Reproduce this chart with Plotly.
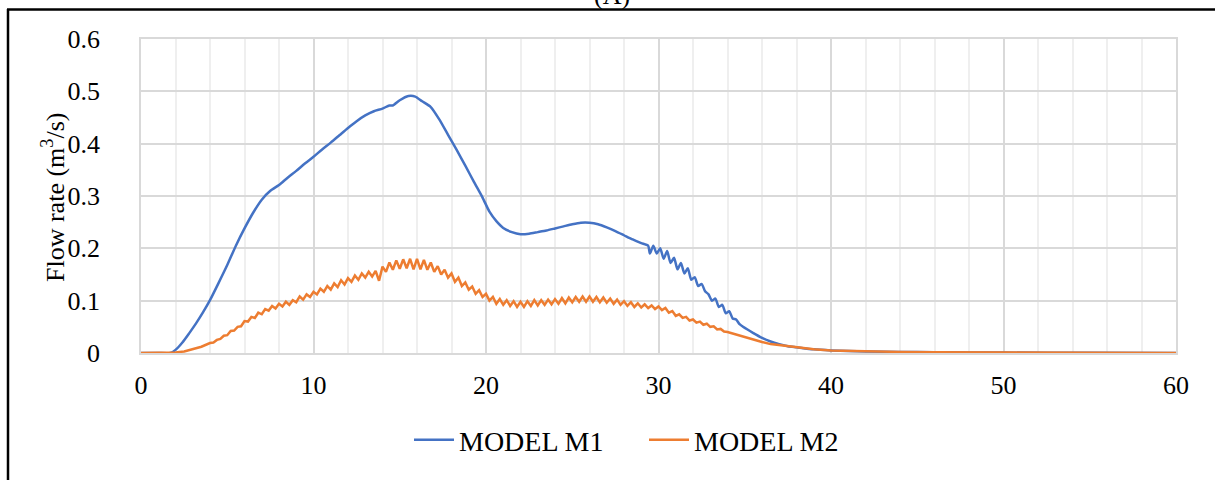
import plotly.graph_objects as go

# ---------------- data ----------------
t_m1 = [0, 1, 1.7, 2.0, 2.4, 2.8, 3.2, 3.6, 4.0, 4.5, 5.0, 5.5, 6.0, 6.5, 7.0, 7.5,
        8.0, 8.5, 9.0, 9.5, 10, 10.5, 11, 11.5, 12, 12.5, 13, 13.5, 14, 14.4, 14.6,
        15.0, 15.5, 15.9, 16.3, 16.8, 17.3, 17.8, 18.3, 18.8, 19.3, 19.8, 20.2, 20.6,
        21.0, 21.5, 22.0, 22.5, 23.0, 23.5, 24.0, 24.5, 25.0, 25.5, 26.0, 26.5, 27.0,
        27.5, 28.0, 28.5, 29.0, 29.4,
        29.5, 29.7, 29.9, 30.1, 30.3, 30.5, 30.7, 30.9, 31.1, 31.3, 31.5, 31.7, 31.9,
        32.1, 32.3, 32.5, 32.7, 32.9, 33.1, 33.3, 33.5, 33.7, 33.9, 34.1, 34.3, 34.5,
        34.7, 34.9, 35.5, 36, 36.5, 37, 37.5, 38, 39, 40, 41, 42, 44, 46, 48, 50, 55, 60]
q_m1 = [0, 0, 0, 0.006, 0.02, 0.038, 0.057, 0.078, 0.101, 0.134, 0.168, 0.205, 0.238,
        0.268, 0.293, 0.31, 0.321, 0.335, 0.348, 0.362, 0.375, 0.389, 0.402, 0.416,
        0.43, 0.443, 0.454, 0.462, 0.467, 0.473, 0.473, 0.483, 0.491, 0.49, 0.481,
        0.47, 0.446, 0.417, 0.388, 0.358, 0.327, 0.297, 0.27, 0.252, 0.239, 0.231,
        0.227, 0.228, 0.231, 0.234, 0.238, 0.242, 0.246, 0.249, 0.249, 0.246, 0.24,
        0.233, 0.225, 0.217, 0.21, 0.205,
        0.19, 0.205, 0.19, 0.2, 0.18, 0.195, 0.172, 0.182, 0.16, 0.172, 0.152, 0.162,
        0.14, 0.145, 0.128, 0.132, 0.118, 0.112, 0.1, 0.104, 0.088, 0.092, 0.076,
        0.08, 0.066, 0.064, 0.055, 0.05, 0.038, 0.029, 0.022, 0.017, 0.013, 0.011,
        0.007, 0.005, 0.004, 0.003, 0.002, 0.0015, 0.001, 0.0008, 0.0003, 0]

t_m2 = [0, 1, 1.5, 2, 2.5, 3, 3.5,
        4.0, 4.2, 4.4, 4.6, 4.8, 5.0, 5.2, 5.4, 5.6, 5.8, 6.0, 6.2, 6.4, 6.6, 6.8,
        7.0, 7.2, 7.4, 7.6, 7.8, 8.0, 8.2, 8.4, 8.6, 8.8, 9.0, 9.2, 9.4, 9.6, 9.8,
        10.0, 10.2, 10.4, 10.6, 10.8, 11.0, 11.2, 11.4, 11.6, 11.8, 12.0, 12.2, 12.4,
        12.6, 12.8, 13.0, 13.2, 13.4, 13.6, 13.8, 14.0, 14.2, 14.4, 14.6, 14.8, 15.0,
        15.2, 15.4, 15.6, 15.8, 16.0, 16.2, 16.4, 16.6, 16.8, 17.0, 17.2, 17.4, 17.6,
        17.8, 18.0, 18.2, 18.4, 18.6, 18.8, 19.0, 19.2, 19.4, 19.6, 19.8, 20.0, 20.2,
        20.4, 20.6, 20.8, 21.0, 21.2, 21.4, 21.6, 21.8, 22.0, 22.2, 22.4, 22.6, 22.8,
        23.0, 23.2, 23.4, 23.6, 23.8, 24.0, 24.2, 24.4, 24.6, 24.8, 25.0, 25.2, 25.4,
        25.6, 25.8, 26.0, 26.2, 26.4, 26.6, 26.8, 27.0, 27.2, 27.4, 27.6, 27.8, 28.0,
        28.2, 28.4, 28.6, 28.8, 29.0, 29.2, 29.4, 29.6, 29.8, 30.0, 30.2, 30.4, 30.6,
        30.8, 31.0, 31.2, 31.4, 31.6, 31.8, 32.0, 32.2, 32.4, 32.6, 32.8, 33.0, 33.2,
        33.4, 33.6, 33.8, 34.0,
        34.5, 35, 35.5, 36, 36.5, 37, 37.5, 38, 39, 40, 41, 42, 44, 46, 48, 50, 55, 60]
q_m2 = [0, 0, 0, 0.001, 0.003, 0.007, 0.012,
        0.019, 0.020, 0.025, 0.027, 0.033, 0.034, 0.042, 0.043, 0.050, 0.051, 0.061,
        0.060, 0.069, 0.067, 0.077, 0.074, 0.084, 0.081, 0.090, 0.085, 0.094, 0.089,
        0.098, 0.092, 0.101, 0.097, 0.108, 0.102, 0.112, 0.107, 0.117, 0.112, 0.123,
        0.117, 0.128, 0.121, 0.133, 0.126, 0.139, 0.131, 0.143, 0.136, 0.148, 0.140,
        0.152, 0.144, 0.155, 0.146, 0.157, 0.138, 0.165, 0.155, 0.173, 0.159, 0.177,
        0.161, 0.179, 0.162, 0.180, 0.160, 0.180, 0.160, 0.178, 0.159, 0.173, 0.155,
        0.166, 0.150, 0.159, 0.144, 0.152, 0.136, 0.144, 0.128, 0.135, 0.121, 0.127,
        0.113, 0.120, 0.107, 0.113, 0.100, 0.107, 0.094, 0.103, 0.092, 0.101, 0.090,
        0.099, 0.088, 0.098, 0.088, 0.099, 0.090, 0.101, 0.091, 0.101, 0.092, 0.102,
        0.093, 0.103, 0.094, 0.105, 0.095, 0.106, 0.097, 0.107, 0.098, 0.108, 0.098,
        0.108, 0.098, 0.107, 0.097, 0.106, 0.096, 0.104, 0.094, 0.102, 0.092, 0.099,
        0.090, 0.097, 0.088, 0.095, 0.087, 0.093, 0.086, 0.091, 0.084, 0.089, 0.082,
        0.086, 0.077, 0.080, 0.071, 0.074, 0.067, 0.069, 0.062, 0.064, 0.058, 0.060,
        0.054, 0.056, 0.050, 0.051, 0.045, 0.046, 0.041, 0.040,
        0.035, 0.030, 0.026, 0.021, 0.017, 0.015, 0.012, 0.010, 0.007, 0.005, 0.004,
        0.003, 0.002, 0.0015, 0.001, 0.0008, 0.0003, 0]

series_names = ["MODEL M1", "MODEL M2"]
x_ticks = [0, 10, 20, 30, 40, 50, 60]
y_ticks = [0, 0.1, 0.2, 0.3, 0.4, 0.5, 0.6]
y_tick_text = ["0", "0.1", "0.2", "0.3", "0.4", "0.5", "0.6"]

FONT = "Liberation Serif, Times New Roman, serif"

fig = go.Figure()
fig.add_trace(go.Scatter(x=t_m1, y=q_m1, mode="lines", name=series_names[0],
                         line=dict(color="#4472C4", width=2.5, shape="spline",
                                   smoothing=0.6)))
fig.add_trace(go.Scatter(x=t_m2, y=q_m2, mode="lines", name=series_names[1],
                         line=dict(color="#ED7D31", width=2.5)))

W, H = 1215, 480
L, R, T, B = 141, 39, 39, 127
pw, ph = W - L - R, H - T - B


def px_x(p):
    return (p - L) / pw


def px_y(p):
    return (H - B - p) / ph


fig.update_layout(
    width=W, height=H,
    margin=dict(l=L, r=R, t=T, b=B, autoexpand=False),
    paper_bgcolor="white", plot_bgcolor="white",
    font=dict(family=FONT, size=26, color="black"),
    showlegend=True,
    legend=dict(orientation="h", x=px_x(644), xanchor="center",
                y=px_y(440), yanchor="middle",
                font=dict(family=FONT, size=28, color="black"),
                itemwidth=40, entrywidth=180, entrywidthmode="pixels",
                traceorder="normal", bgcolor="rgba(0,0,0,0)"),
    xaxis=dict(range=[0, 60], tickvals=x_ticks, ticktext=[str(v) for v in x_ticks],
               showgrid=True, gridcolor="#d9d9d9", gridwidth=1.5,
               minor=dict(dtick=2, showgrid=True, gridcolor="#efefef", gridwidth=1.5),
               showline=True, linecolor="#d9d9d9", linewidth=1.5, mirror=True,
               zeroline=False, ticks="", ticklabelstandoff=8, fixedrange=True),
    yaxis=dict(range=[0, 0.6], tickvals=y_ticks, ticktext=y_tick_text,
               showgrid=True, gridcolor="#d9d9d9", gridwidth=1.5,
               showline=True, linecolor="#d9d9d9", linewidth=1.5, mirror=True,
               zeroline=False, ticks="", ticklabelstandoff=34, fixedrange=True),
)

# y-axis title
fig.add_annotation(text="Flow rate (m<sup>3</sup>/s)", xref="paper", yref="paper",
                   x=px_x(53), y=px_y(198), xanchor="center", yanchor="middle",
                   textangle=-90, showarrow=False,
                   font=dict(family=FONT, size=26, color="black"))

# partially visible panel label at the very top
fig.add_annotation(text="(A)", xref="paper", yref="paper",
                   x=px_x(612), y=px_y(12), xanchor="center", yanchor="bottom",
                   showarrow=False, font=dict(family=FONT, size=26, color="black"))

# outer frame (left and top edges visible)
fig.add_shape(type="line", xref="paper", yref="paper",
              x0=px_x(8), x1=px_x(8), y0=px_y(9), y1=px_y(520),
              line=dict(color="black", width=2.5))
fig.add_shape(type="line", xref="paper", yref="paper",
              x0=px_x(7), x1=px_x(1260), y0=px_y(9.5), y1=px_y(9.5),
              line=dict(color="black", width=2.5))

fig.write_html("out.html",
               config={"displayModeBar": False},
               post_script="document.body.style.margin='0px';"
                           "document.body.style.overflow='hidden';")
